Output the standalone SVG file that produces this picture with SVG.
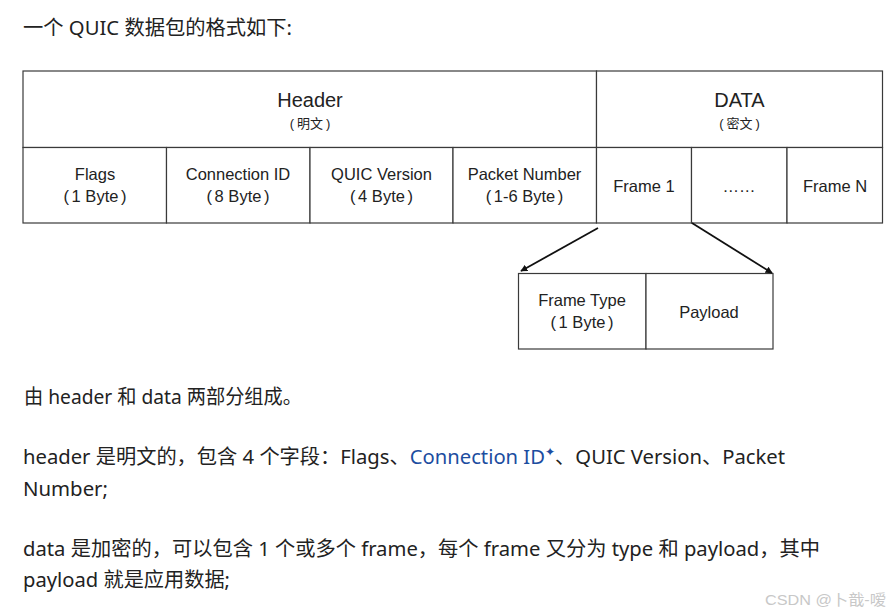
<svg xmlns="http://www.w3.org/2000/svg" width="890" height="614" viewBox="0 0 890 614">
<style>
.p{font-family:"Noto Sans","Noto Sans CJK SC",sans-serif;font-size:20px;fill:#222}
.link{fill:#1c4da0}
.cell{fill:#fff;stroke:#3a3a3a;stroke-width:1.2}
.t{font-family:"Liberation Sans","Noto Sans CJK SC",sans-serif;font-size:16.5px;fill:#222;text-anchor:middle}
.big{font-size:20px}
.sm{font-size:13px}
.conn{stroke:#111;stroke-width:1.8;fill:none;marker-end:url(#ah)}
.wm{font-family:"Liberation Sans","Noto Sans CJK SC",sans-serif;font-size:15px;fill:#c8c8c8}
</style>
<defs>
<marker id="ah" viewBox="0 0 10 10" refX="9" refY="5" markerWidth="7" markerHeight="7" orient="auto" markerUnits="userSpaceOnUse">
<path d="M0,0 L10,5 L0,10 z" fill="#111"/>
</marker>
</defs>
<rect width="890" height="614" fill="#fff"/>
<text class="p" x="23" y="35" textLength="269" lengthAdjust="spacingAndGlyphs">一个 QUIC 数据包的格式如下:</text>

<g id="header">
<rect class="cell" x="23" y="71" width="573.5" height="76.5"/>
<text class="t big" x="310" y="107">Header</text>
<text class="t sm" x="310" y="128">(<tspan dx="3">明文</tspan><tspan dx="3">)</tspan></text>
</g>
<g id="data">
<rect class="cell" x="596.5" y="71" width="286" height="76.5"/>
<text class="t big" x="739.5" y="107">DATA</text>
<text class="t sm" x="739.5" y="128">(<tspan dx="3">密文</tspan><tspan dx="3">)</tspan></text>
</g>
<g id="flags">
<rect class="cell" x="23" y="147.5" width="143.5" height="75.5"/>
<text class="t" x="95" y="180">Flags</text>
<text class="t" x="95" y="202">(<tspan dx="2.5">1 Byte</tspan><tspan dx="2.5">)</tspan></text>
</g>
<g id="connid">
<rect class="cell" x="166.5" y="147.5" width="143.5" height="75.5"/>
<text class="t" x="238" y="180">Connection ID</text>
<text class="t" x="238" y="202">(<tspan dx="2.5">8 Byte</tspan><tspan dx="2.5">)</tspan></text>
</g>
<g id="version">
<rect class="cell" x="310" y="147.5" width="143" height="75.5"/>
<text class="t" x="381.5" y="180">QUIC Version</text>
<text class="t" x="381.5" y="202">(<tspan dx="2.5">4 Byte</tspan><tspan dx="2.5">)</tspan></text>
</g>
<g id="pktnum">
<rect class="cell" x="453" y="147.5" width="143.5" height="75.5"/>
<text class="t" x="524.5" y="180">Packet Number</text>
<text class="t" x="524.5" y="202">(<tspan dx="2.5">1-6 Byte</tspan><tspan dx="2.5">)</tspan></text>
</g>
<g id="frame1">
<rect class="cell" x="596.5" y="147.5" width="95" height="75.5"/>
<text class="t" x="644" y="192">Frame 1</text>
</g>
<g id="dots">
<rect class="cell" x="691.5" y="147.5" width="95.5" height="75.5"/>
<text class="t" x="739" y="192">……</text>
</g>
<g id="frameN">
<rect class="cell" x="787" y="147.5" width="95.5" height="75.5"/>
<text class="t" x="835" y="192">Frame N</text>
</g>
<g id="frametype">
<rect class="cell" x="518.5" y="273.5" width="127.5" height="75.5"/>
<text class="t" x="582" y="306">Frame Type</text>
<text class="t" x="582" y="328">(<tspan dx="2.5">1 Byte</tspan><tspan dx="2.5">)</tspan></text>
</g>
<g id="payload">
<rect class="cell" x="646" y="273.5" width="127" height="75.5"/>
<text class="t" x="709" y="318">Payload</text>
</g>
<g id="connectors">
<line class="conn" x1="598" y1="228" x2="521" y2="271"/>
<line class="conn" x1="692" y1="223" x2="772" y2="273"/>
</g>

<text class="p" x="24" y="404" textLength="278" lengthAdjust="spacingAndGlyphs">由 header 和 data 两部分组成。</text>
<text class="p" x="23" y="464" textLength="762" lengthAdjust="spacingAndGlyphs">header 是明文的，包含 4 个字段：Flags、<tspan class="link">Connection ID<tspan font-size="12" dy="-8">✦</tspan></tspan><tspan dy="8">、QUIC Version、Packet</tspan></text>
<text class="p" x="23" y="496" textLength="85" lengthAdjust="spacingAndGlyphs">Number;</text>
<text class="p" x="23" y="556" textLength="797" lengthAdjust="spacingAndGlyphs">data 是加密的，可以包含 1 个或多个 frame，每个 frame 又分为 type 和 payload，其中</text>
<text class="p" x="23" y="587" textLength="207" lengthAdjust="spacingAndGlyphs">payload 就是应用数据;</text>
<text class="wm" x="765" y="605" textLength="121" lengthAdjust="spacingAndGlyphs">CSDN @卜戠-嗳</text>
</svg>
